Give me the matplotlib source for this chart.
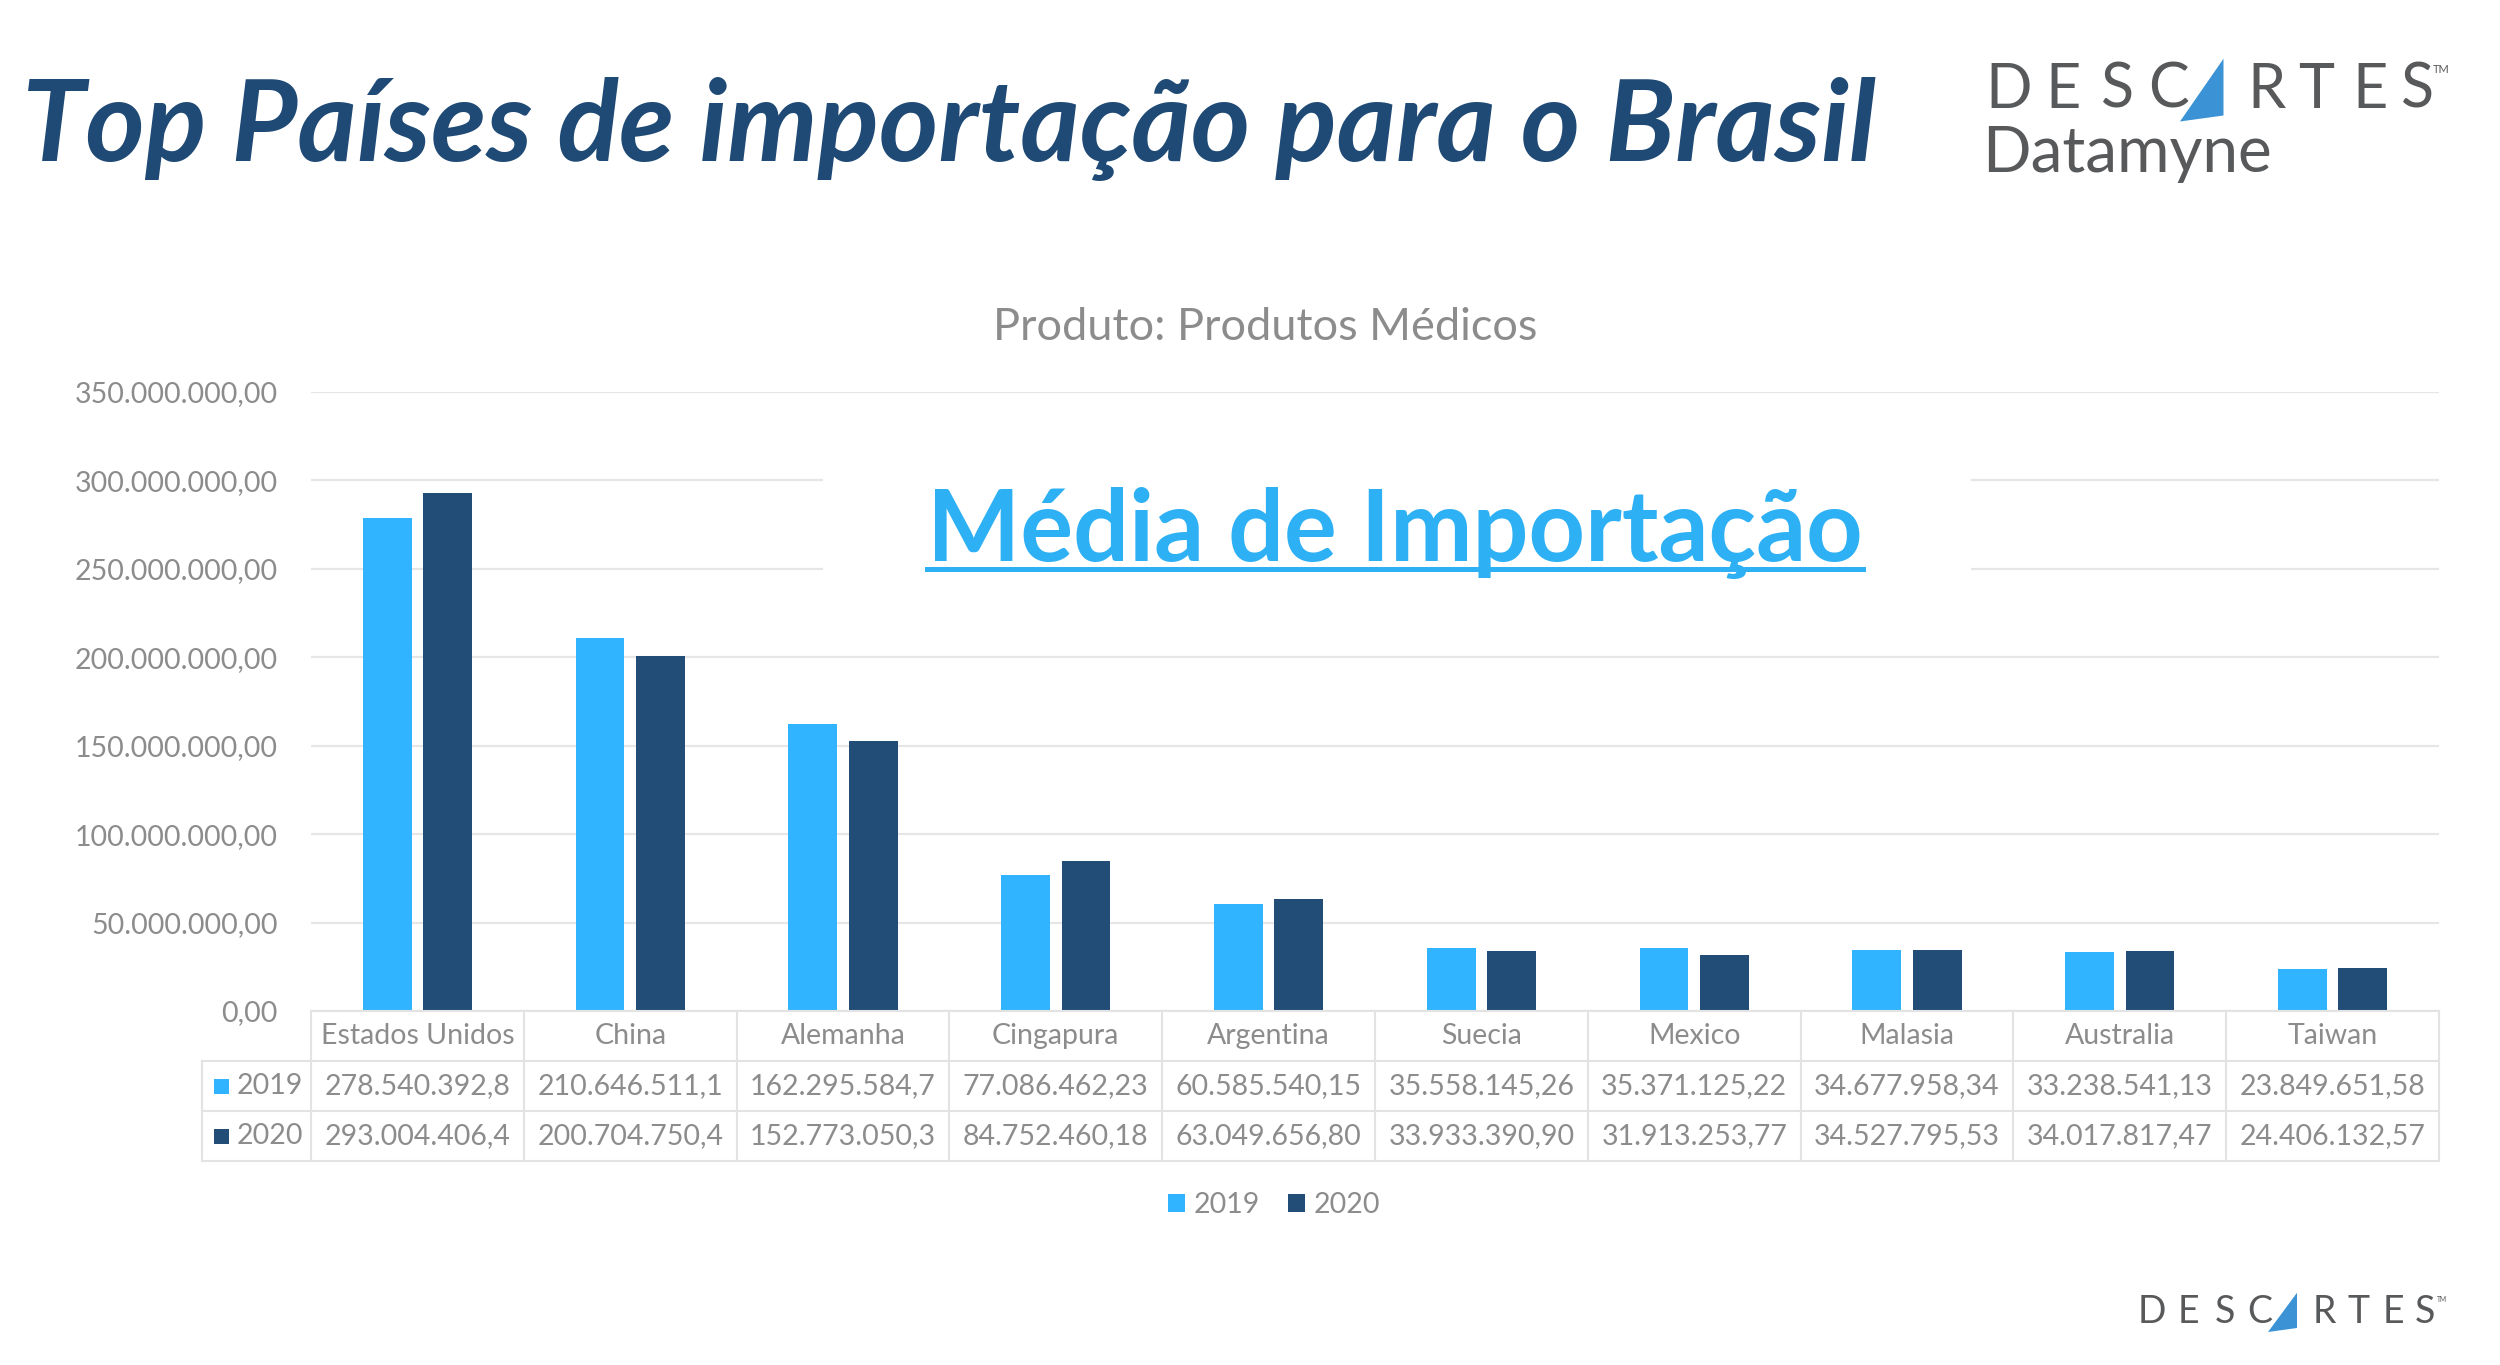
import matplotlib
matplotlib.use('Agg')
import matplotlib.pyplot as plt
from matplotlib.patches import Rectangle, Polygon
from matplotlib.lines import Line2D

plt.rcParams['font.family'] = ['Lato', 'DejaVu Sans']

# dados
paises = ['Estados Unidos', 'China', 'Alemanha', 'Cingapura', 'Argentina',
          'Suecia', 'Mexico', 'Malasia', 'Australia', 'Taiwan']
v2019 = [278540392.8, 210646511.1, 162295584.7, 77086462.23, 60585540.15,
         35558145.26, 35371125.22, 34677958.34, 33238541.13, 23849651.58]
v2020 = [293004406.4, 200704750.4, 152773050.3, 84752460.18, 63049656.80,
         33933390.90, 31913253.77, 34527795.53, 34017817.47, 24406132.57]
anos = ['2019', '2020']
yticks = [0, 50e6, 100e6, 150e6, 200e6, 250e6, 300e6, 350e6]

c2019 = '#30B4FF'
c2020 = '#214D76'
cinza = '#8C8C8C'
navy = '#1F4A75'
W, H = 2500, 1365
fs = 20.5


def br(v, dec):
    s = f'{v:,.{dec}f}'
    return s.replace(',', 'X').replace('.', ',').replace('X', '.')


def br10(v):
    # excel corta em 10 digitos
    return br(v, 10 - len(str(int(v))))


fig = plt.figure(figsize=(25, 13.65), dpi=100)

# titulo
fig.text(22 / W, 1 - 161 / H, 'Top Países de importação para o Brasil',
         fontsize=82, fontweight='bold', style='italic', color=navy,
         ha='left', va='baseline')
fig.text(1265 / W, 1 - 340 / H, 'Produto: Produtos Médicos', fontsize=32.5,
         color=cinza, ha='center', va='baseline')


def logo(x0, base, h, s):
    letras = [('D', 0), ('E', 1.6), ('S', 3.08), ('C', 4.36), ('R', 7.0),
              ('T', 8.36), ('E', 9.8), ('S', 11.08)]
    for l, dx in letras:
        fig.text((x0 + dx * s) / W, 1 - base / H, l, fontsize=h,
                 color='#58595B', ha='left', va='baseline')
    tri = [((x0 + 5.2 * s) / W, 1 - (base + 0.36 * s) / H),
           ((x0 + 6.36 * s) / W, 1 - (base - 1.12 * h) / H),
           ((x0 + 6.36 * s) / W, 1 - (base + 0.2 * s) / H)]
    fig.add_artist(Polygon(tri, closed=True, transform=fig.transFigure,
                           facecolor='#3B93D6', edgecolor='none'))
    fig.text((x0 + 11.95 * s) / W, 1 - (base - 1.0 * h) / H, 'TM',
             fontsize=h * 0.18, color='#58595B', ha='left', va='top')


logo(1985, 108, 44, 37.5)
fig.text(1982 / W, 1 - 172 / H, 'Datamyne', fontsize=46, color='#58595B',
         ha='left', va='baseline')
logo(2138, 1323, 27, 25)

# grafico
ax = fig.add_axes([311 / W, 1 - 1011 / H, 2128 / W, 619 / H])
x = list(range(len(paises)))
larg = 0.23
b1 = ax.bar([i - 0.142 for i in x], v2019, larg, color=c2019, label='2019', zorder=3)
b2 = ax.bar([i + 0.142 for i in x], v2020, larg, color=c2020, label='2020', zorder=3)
ax.set_xlim(-0.5, 9.5)
ax.set_ylim(0, 350e6)
ax.set_yticks(yticks)
ax.set_yticklabels([br(t, 2) for t in yticks])
ax.set_xticks([])
ax.tick_params(axis='y', length=0, pad=24, labelsize=fs, labelcolor=cinza)
ax.yaxis.grid(True, color='#E6E6E6', lw=1.6)
ax.set_axisbelow(True)
for s in ax.spines.values():
    s.set_visible(False)

# caixa branca + texto
fig.add_artist(Rectangle((823 / W, 1 - 589 / H), 1148 / W, 129 / H,
                         transform=fig.transFigure, facecolor='white',
                         edgecolor='none', zorder=2))
txt = fig.text(1395 / W, 1 - 561 / H, 'Média de Importação', fontsize=71,
               fontweight='bold', color='#2EB0F5', ha='center', va='baseline',
               zorder=4)

# tabela
tax = fig.add_axes([311 / W, 1 - 1161 / H, 2128 / W, 150 / H])
tax.set_xlim(-0.5, 9.5)
tax.set_ylim(0, 3)
tax.axis('off')
cw = 2128 / 10
xl = -0.5 - 109 / cw
lc = '#E3E3E3'
lw = 1.5
tax.plot([-0.5, 9.5], [3, 3], color=lc, lw=lw, clip_on=False)
for yy in [2, 1, 0]:
    tax.plot([xl, 9.5], [yy, yy], color=lc, lw=lw, clip_on=False)
for k in range(11):
    tax.plot([k - 0.5, k - 0.5], [0, 3], color=lc, lw=lw, clip_on=False)
tax.plot([xl, xl], [0, 2], color=lc, lw=lw, clip_on=False)

for i, p in enumerate(paises):
    tax.text(i, 2.5, p, ha='center', va='center', fontsize=fs, color=cinza)
    tax.text(i, 1.5, br10(v2019[i]), ha='center', va='center', fontsize=fs, color=cinza)
    tax.text(i, 0.5, br10(v2020[i]), ha='center', va='center', fontsize=fs, color=cinza)

for j, (ano, c) in enumerate(zip(anos, [c2019, c2020])):
    yc = 1.5 - j
    tax.add_patch(Rectangle((-0.5 - 97 / cw, yc - 0.15), 15 / cw, 0.3,
                            facecolor=c, edgecolor='none', clip_on=False))
    tax.text(-0.5 - 74 / cw, yc, ano, ha='left', va='center', fontsize=fs,
             color=cinza, clip_on=False)

fig.legend(handles=[b1, b2], labels=anos, loc='center',
           bbox_to_anchor=(1274 / W, 1 - 1205 / H), ncol=2, frameon=False,
           fontsize=fs, labelcolor=cinza, handlelength=0.6, handleheight=0.6,
           handletextpad=0.3, columnspacing=1.0)

# sublinhado
fig.canvas.draw()
bb = txt.get_window_extent(fig.canvas.get_renderer())
fig.add_artist(Line2D([bb.x0 / W, bb.x1 / W], [1 - 569 / H, 1 - 569 / H],
                      transform=fig.transFigure, color='#2EB0F5', lw=3.6,
                      zorder=4))

fig.savefig('out.png', dpi=100, facecolor='white')
